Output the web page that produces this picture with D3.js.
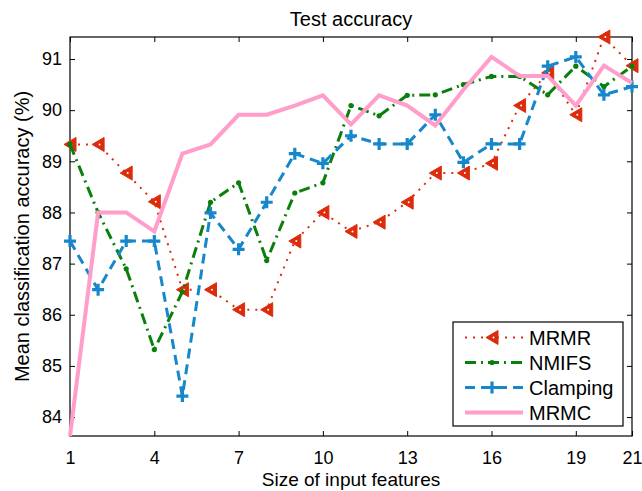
<!DOCTYPE html>
<html>
<head>
<meta charset="utf-8">
<script src="https://cdnjs.cloudflare.com/ajax/libs/d3/7.8.5/d3.min.js"></script>
<style>
  body { margin: 0; background: #fff; }
  text { font-family: "Liberation Sans", Arial, sans-serif; }
</style>
</head>
<body>
<script>
// feature counts 1..21
var features = d3.range(1, 22);
var xTicks = [1, 4, 7, 10, 13, 16, 19, 21];
var yTicks = [84, 85, 86, 87, 88, 89, 90, 91];

var mrmr     = [89.33, 89.33, 88.77, 88.21, 86.49, 86.49, 86.10, 86.10, 87.44, 88.00, 87.63,
                87.81, 88.20, 88.77, 88.77, 88.96, 90.09, 90.73, 89.91, 91.43, 90.87];
var nmifs    = [89.33, 88.00, 86.90, 85.32, 86.45, 88.20, 88.58, 87.06, 88.38, 88.58, 90.09,
                89.89, 90.29, 90.30, 90.50, 90.66, 90.66, 90.30, 90.86, 90.46, 90.86];
var clamping = [87.44, 86.49, 87.44, 87.44, 84.41, 87.99, 87.28, 88.20, 89.15, 88.96, 89.50,
                89.34, 89.34, 89.91, 88.98, 89.34, 89.34, 90.86, 91.04, 90.30, 90.46];
var mrmc     = [83.63, 88.00, 88.00, 87.63, 89.15, 89.33, 89.91, 89.91, 90.09, 90.29, 89.72,
                90.29, 90.09, 89.70, 90.40, 91.04, 90.67, 90.67, 90.09, 90.87, 90.53];

var series = [
  {name: "MRMR", values: mrmr, color: "#dd2c0c", width: 2, dash: "2,6", marker: "tri"},
  {name: "NMIFS", values: nmifs, color: "#0a7f0a", width: 3, dash: "11,5,2,5", marker: "dot"},
  {name: "Clamping", values: clamping, color: "#1787cc", width: 3, dash: "10,6", marker: "plus"},
  {name: "MRMC", values: mrmc, color: "#ff9dcb", width: 4, dash: null, marker: null}
];

var W = 642, H = 491;
var margin = {top: 37, right: 10, bottom: 55, left: 70};

var svg = d3.select("body").append("svg")
    .attr("width", W)
    .attr("height", H);

var x = d3.scaleLinear().domain([1, 21]).range([margin.left, W - margin.right]);
var y = d3.scaleLinear().domain([83.63, 91.43]).range([H - margin.bottom, margin.top]);

// axes, ticks inside like matlab
var tl = 5;
svg.append("g")
    .attr("transform", "translate(0," + y.range()[0] + ")")
    .call(d3.axisBottom(x).tickValues(xTicks).tickSizeInner(-tl).tickSizeOuter(0).tickPadding(15))
    .call(function(g) { g.select(".domain").remove(); });
svg.append("g")
    .attr("transform", "translate(0," + y.range()[1] + ")")
    .call(d3.axisTop(x).tickValues(xTicks).tickSizeInner(-tl).tickSizeOuter(0).tickFormat(""))
    .call(function(g) { g.select(".domain").remove(); });
svg.append("g")
    .attr("transform", "translate(" + x.range()[0] + ",0)")
    .call(d3.axisLeft(y).tickValues(yTicks).tickSizeInner(-tl).tickSizeOuter(0).tickPadding(8))
    .call(function(g) { g.select(".domain").remove(); });
svg.append("g")
    .attr("transform", "translate(" + x.range()[1] + ",0)")
    .call(d3.axisRight(y).tickValues(yTicks).tickSizeInner(-tl).tickSizeOuter(0).tickFormat(""))
    .call(function(g) { g.select(".domain").remove(); });

svg.selectAll(".tick text").attr("font-size", 18).attr("fill", "#000")
    .attr("font-family", "'Liberation Sans', Arial, sans-serif");
svg.selectAll(".tick line").attr("stroke", "#000");

svg.append("rect")
    .attr("x", x.range()[0]).attr("y", y.range()[1])
    .attr("width", x.range()[1] - x.range()[0])
    .attr("height", y.range()[0] - y.range()[1])
    .attr("fill", "none").attr("stroke", "#000").attr("stroke-width", 1.2);

var line = d3.line()
    .x(function(d, i) { return x(features[i]); })
    .y(function(d) { return y(d); });

function drawMarker(g, type, cx, cy, color) {
  if (type == "tri") {
    g.append("path")
      .attr("d", "M" + (cx - 6) + "," + cy + "L" + (cx + 6) + "," + (cy - 7) + "L" + (cx + 6) + "," + (cy + 7) + "Z")
      .attr("fill", color).attr("stroke", color).attr("stroke-width", 1);
    g.append("circle").attr("cx", cx + 1.5).attr("cy", cy).attr("r", 1).attr("fill", "#fff");
  } else if (type == "dot") {
    g.append("circle").attr("cx", cx).attr("cy", cy).attr("r", 2.6).attr("fill", color);
  } else if (type == "plus") {
    g.append("path")
      .attr("d", "M" + (cx - 6) + "," + cy + "H" + (cx + 6) + "M" + cx + "," + (cy - 6) + "V" + (cy + 6))
      .attr("stroke", color).attr("stroke-width", 3.2).attr("fill", "none");
  }
}

series.forEach(function(s) {
  var g = svg.append("g");
  g.append("path")
    .datum(s.values)
    .attr("d", line)
    .attr("fill", "none")
    .attr("stroke", s.color)
    .attr("stroke-width", s.width)
    .attr("stroke-dasharray", s.dash);
  if (s.marker) {
    s.values.forEach(function(v, i) {
      drawMarker(g, s.marker, x(features[i]), y(v), s.color);
    });
  }
});

// legend
var lg = svg.append("g").attr("transform", "translate(453,322)");
lg.append("rect").attr("width", 170).attr("height", 104)
  .attr("fill", "#fff").attr("stroke", "#000").attr("stroke-width", 1.2);
series.forEach(function(s, i) {
  var ly = 15.5 + i * 25;
  lg.append("line").attr("x1", 12).attr("x2", 70).attr("y1", ly).attr("y2", ly)
    .attr("stroke", s.color).attr("stroke-width", s.width).attr("stroke-dasharray", s.dash);
  if (s.marker) drawMarker(lg, s.marker, 39, ly, s.color);
  lg.append("text").attr("x", 76).attr("y", ly + 7).attr("font-size", 20).text(s.name);
});

svg.append("text").attr("x", (x.range()[0] + x.range()[1]) / 2).attr("y", 26)
  .attr("text-anchor", "middle").attr("font-size", 20).text("Test accuracy");
svg.append("text").attr("x", (x.range()[0] + x.range()[1]) / 2).attr("y", 486)
  .attr("text-anchor", "middle").attr("font-size", 19).text("Size of input features");
svg.append("text")
  .attr("transform", "translate(29," + ((y.range()[0] + y.range()[1]) / 2) + ") rotate(-90)")
  .attr("text-anchor", "middle").attr("font-size", 20).text("Mean classification accuracy (%)");
</script>
</body>
</html>
